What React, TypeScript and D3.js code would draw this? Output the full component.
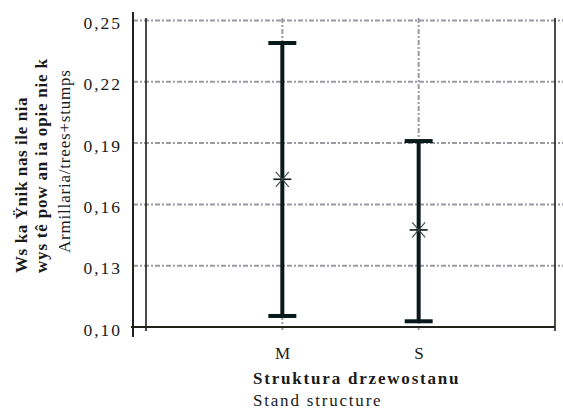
import React from "react";
import * as d3 from "d3";

const categories = ["M", "S"];
const means = [0.1723, 0.1475];
const upper = [0.239, 0.191];
const lower = [0.1054, 0.1028];
const yTicks = [0.1, 0.13, 0.16, 0.19, 0.22, 0.25];
const yTickLabels = ["0,10", "0,13", "0,16", "0,19", "0,22", "0,25"];
const yTitle = ["Ws ka Ÿnik nas ile nia", "wys tê pow an ia opie nie k", "Armillaria/trees+stumps"];
const xTitle = ["Struktura drzewostanu", "Stand structure"];

const W = 563;
const H = 408;
const FONT = "'Liberation Serif', 'Times New Roman', serif";

export default function App() {
  const left = 146;
  const right = 555;
  const top = 20.5;
  const bottom = 327;
  const x = d3.scalePoint<string>().domain(categories).range([left, right]).padding(1);
  const y = d3.scaleLinear().domain([0.1, 0.25]).range([bottom, top]);
  const grid = "#9a9aa2";
  const axis = "#22201a";
  const bar = "#0a1a1a";
  const capHalf = 14;

  return (
    <svg width={W} height={H} style={{ position: "absolute", left: 0, top: 0, background: "#fff" }}>
      {/* horizontal gridlines */}
      {yTicks.slice(1).map((t) => (
        <line key={"h" + t} x1={133} x2={563} y1={y(t)} y2={y(t)} stroke={grid} strokeWidth={2} strokeDasharray="5,2,2,2" />
      ))}
      {/* vertical gridlines */}
      {categories.map((c) => (
        <line key={"v" + c} x1={x(c)!} x2={x(c)!} y1={18} y2={330} stroke={grid} strokeWidth={2} strokeDasharray="5,2,2,2" />
      ))}
      {/* frame lines */}
      <line x1={133} x2={133} y1={12} y2={337} stroke={axis} strokeWidth={2} />
      <line x1={146} x2={146} y1={18} y2={331} stroke={axis} strokeWidth={1.6} />
      <line x1={555} x2={555} y1={18} y2={331} stroke={axis} strokeWidth={1.6} />
      <line x1={131} x2={555} y1={bottom} y2={bottom} stroke={axis} strokeWidth={2.2} />

      {/* y tick labels */}
      {yTicks.map((t, i) => (
        <text key={"yl" + t} x={122} y={y(t) + 8.5} textAnchor="end" fontFamily={FONT} fontSize={17.5} letterSpacing={2} fill="#1a1a1a">
          {yTickLabels[i]}
        </text>
      ))}

      {/* error bars */}
      {categories.map((c, i) => {
        const cx = x(c)!;
        return (
          <g key={"b" + c}>
            <line x1={cx} x2={cx} y1={y(upper[i])} y2={y(lower[i])} stroke={bar} strokeWidth={4} />
            <line x1={cx - capHalf} x2={cx + capHalf} y1={y(upper[i])} y2={y(upper[i])} stroke={bar} strokeWidth={4} />
            <line x1={cx - capHalf} x2={cx + capHalf} y1={y(lower[i])} y2={y(lower[i])} stroke={bar} strokeWidth={4} />
            {/* star marker */}
            <g transform={`translate(${cx},${y(means[i])})`}>
              <line x1={-9} x2={9} y1={0} y2={0} stroke={bar} strokeWidth={1.6} />
              <line x1={-6.5} x2={6.5} y1={-7.5} y2={7.5} stroke="#3a4a4a" strokeWidth={1.1} />
              <line x1={-6.5} x2={6.5} y1={7.5} y2={-7.5} stroke="#3a4a4a" strokeWidth={1.1} />
            </g>
          </g>
        );
      })}

      {/* x tick labels */}
      {categories.map((c) => (
        <text key={"xl" + c} x={x(c)! + 1} y={359} textAnchor="middle" fontFamily={FONT} fontSize={17} letterSpacing={1.5} fill="#1a1a1a">
          {c}
        </text>
      ))}

      {/* x title */}
      <text x={253} y={384} fontFamily={FONT} fontSize={17} fontWeight="bold" letterSpacing={1.8} fill="#1a1a1a">
        {xTitle[0]}
      </text>
      <text x={253} y={405.5} fontFamily={FONT} fontSize={17} letterSpacing={1.8} fill="#1a1a1a">
        {xTitle[1]}
      </text>

      {/* y title */}
      <text transform="translate(27,273) rotate(-90)" fontFamily={FONT} fontSize={17} fontWeight="bold" letterSpacing={0.6} fill="#1a1a1a">
        {yTitle[0]}
      </text>
      <text transform="translate(47,273) rotate(-90)" fontFamily={FONT} fontSize={17} fontWeight="bold" letterSpacing={0.8} fill="#1a1a1a">
        {yTitle[1]}
      </text>
      <text transform="translate(70,253) rotate(-90)" fontFamily={FONT} fontSize={17} letterSpacing={0.8} fill="#1a1a1a">
        {yTitle[2]}
      </text>
    </svg>
  );
}
